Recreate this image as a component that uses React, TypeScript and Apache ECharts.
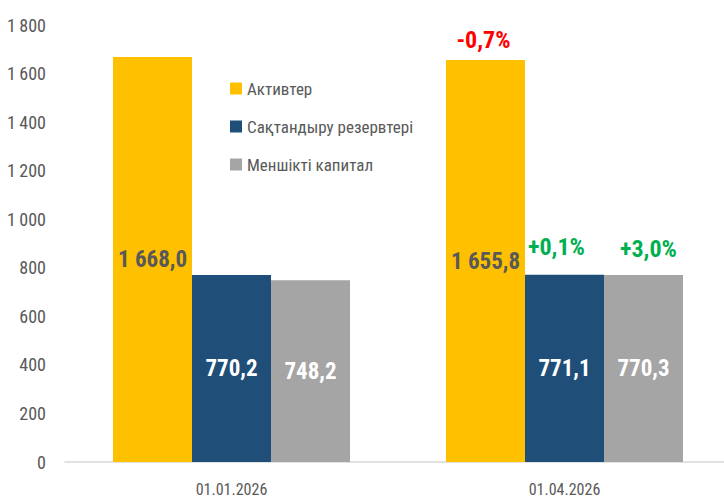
import React, { useEffect, useRef } from "react";
import * as echarts from "echarts";

const categories = ["01.01.2026", "01.04.2026"];
const seriesNames = ["Активтер", "Сақтандыру резервтері", "Меншікті капитал"];
const assets = [1668.0, 1655.8];
const reserves = [770.2, 771.1];
const equity = [748.2, 770.3];
const assetsChange = ["", "-0,7%"];
const reservesChange = ["", "+0,1%"];
const equityChange = ["", "+3,0%"];
const yTicks = [0, 200, 400, 600, 800, 1000, 1200, 1400, 1600, 1800];

const FONT = "'Roboto Condensed', 'Open Sans Condensed', sans-serif";
const colors = ["#FFC000", "#1F4E79", "#A5A5A5"];
const labelColors = ["#595959", "#FFFFFF", "#FFFFFF"];

const fmt = (v: number) => {
  const s = v.toFixed(1).replace(".", ",");
  const [i, d] = s.split(",");
  const ii = i.replace(/\B(?=(\d{3})+(?!\d))/g, " ");
  return ii + "," + d;
};

export default function App() {
  const ref = useRef<HTMLDivElement>(null);
  useEffect(() => {
    if (!ref.current) return;
    const chart = echarts.init(ref.current, undefined, { renderer: "svg" });
    const values = [assets, reserves, equity];
    const changes = [assetsChange, reservesChange, equityChange];
    const distances = [8, 16, 14];
    const xShifts = [-2, -8, 5];
    const mainSeries = values.map((vals, k) => ({
      name: seriesNames[k],
      type: "bar",
      stack: "s" + k,
      barWidth: 79,
      barGap: "0%",
      itemStyle: { color: colors[k] },
      label: {
        show: true,
        position: "inside",
        fontFamily: FONT,
        fontSize: 23,
        fontWeight: "bold",
        color: labelColors[k],
        formatter: (p: any) => fmt(p.value),
      },
      data: vals,
    }));
    const helperSeries = changes.map((ch, k) => ({
      name: "helper" + k,
      type: "bar",
      stack: "s" + k,
      barWidth: 79,
      barGap: "0%",
      itemStyle: { color: "transparent" },
      label: {
        show: true,
        position: "top",
        distance: distances[k],
        offset: [xShifts[k], 0],
        fontFamily: FONT,
        fontSize: 24,
        fontWeight: "bold",
        color: k === 0 ? "#FF0000" : "#00B050",
        formatter: (p: any) => ch[p.dataIndex],
      },
      data: ch.map((c) => (c ? 0 : "-")),
    }));
    chart.setOption({
      animation: false,
      grid: {
        left: 65,
        width: 666,
        top: 25,
        bottom: 37,
        containLabel: false,
        outerBoundsMode: "none",
      },
      legend: {
        data: seriesNames,
        orient: "vertical",
        left: 225,
        top: 75,
        itemWidth: 12,
        itemHeight: 12,
        itemGap: 21,
        itemTextGap: 2,
        icon: "rect",
        textStyle: { fontFamily: FONT, fontSize: 17, color: "#595959" },
      },
      xAxis: {
        type: "category",
        data: categories,
        axisLine: { lineStyle: { color: "#D9D9D9", width: 1.5 } },
        axisTick: { show: false },
        axisLabel: { fontFamily: FONT, fontSize: 16, color: "#595959", margin: 19 },
      },
      yAxis: {
        type: "value",
        min: yTicks[0],
        max: yTicks[yTicks.length - 1],
        interval: 200,
        splitLine: { show: false },
        axisLine: { show: false },
        axisTick: { show: false },
        axisLabel: {
          fontFamily: FONT,
          fontSize: 18,
          color: "#595959",
          margin: 19,
          formatter: (v: number) => String(v).replace(/\B(?=(\d{3})+(?!\d))/g, "\u2009"),
        },
      },
      series: [...mainSeries, ...helperSeries],
    });
    return () => chart.dispose();
  }, []);
  return (
    <div
      ref={ref}
      style={{ position: "fixed", left: 0, top: 0, width: 724, height: 499, background: "#fff" }}
    />
  );
}
